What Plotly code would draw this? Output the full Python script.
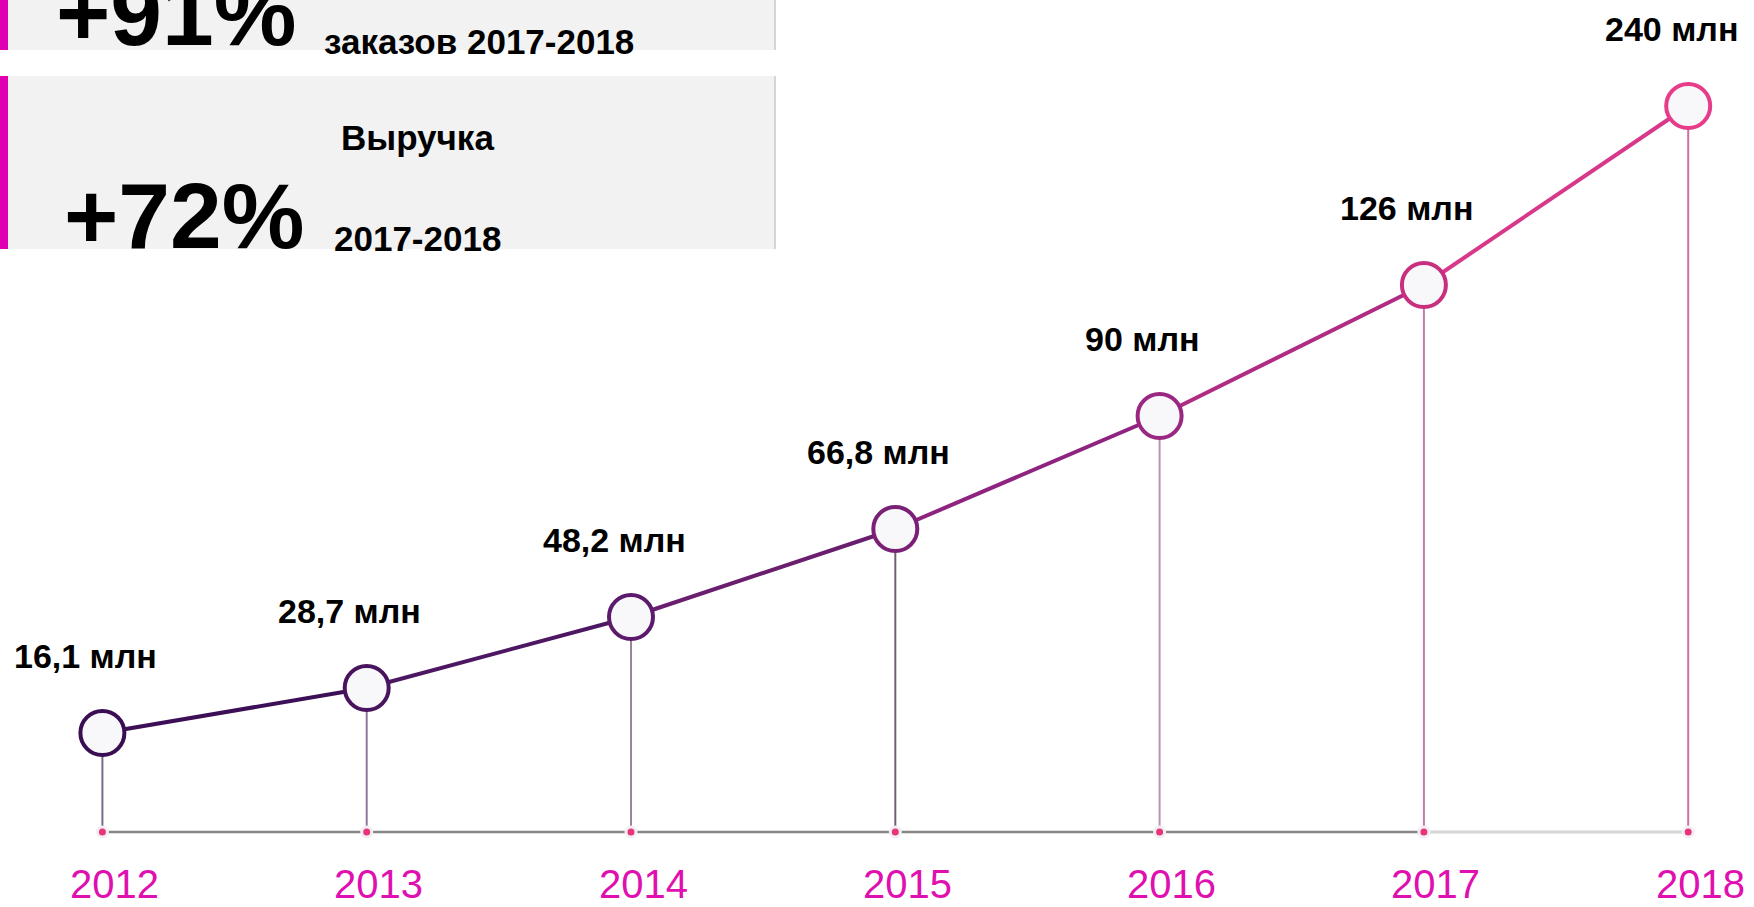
import plotly.graph_objects as go

# ---- data ----
years = [2012, 2013, 2014, 2015, 2016, 2017, 2018]
value_labels = ["16,1 млн", "28,7 млн", "48,2 млн", "66,8 млн", "90 млн", "126 млн", "240 млн"]
# visual height of the infographic curve at each year (chart units)
curve_levels = [99, 144, 215, 303, 416, 547, 726]
year_labels = ["2012", "2013", "2014", "2015", "2016", "2017", "2018"]

point_colors = ["#3a0e52", "#48145e", "#5c1a6c", "#7a2076", "#9a2882", "#c8307f", "#e63c8a"]
segment_colors = ["#3c0f56", "#4d1762", "#6a1e6e", "#8e2480", "#b02c84", "#d8388a"]
drop_colors = ["#7a6a8a", "#8a7a9a", "#9a8495", "#706070", "#c090b8", "#c07ea8", "#d070a0"]

W, H = 1754, 907
BASE_PX = 832  # baseline pixel row

fig = go.Figure()

# baseline (dark part then light part)
fig.add_trace(go.Scatter(x=years[:6], y=[0] * 6, mode="lines",
                         line=dict(color="#858585", width=2.5), hoverinfo="skip"))
fig.add_trace(go.Scatter(x=years[5:], y=[0] * 2, mode="lines",
                         line=dict(color="#d6d6d6", width=3), hoverinfo="skip"))

# drop lines
for yr, lv, c in zip(years, curve_levels, drop_colors):
    fig.add_trace(go.Scatter(x=[yr, yr], y=[0, lv], mode="lines",
                             line=dict(color=c, width=2), hoverinfo="skip"))

# curve segments with gradient colour
for i, c in enumerate(segment_colors):
    fig.add_trace(go.Scatter(x=years[i:i + 2], y=curve_levels[i:i + 2], mode="lines",
                             line=dict(color=c, width=4), hoverinfo="skip"))

# baseline dots
fig.add_trace(go.Scatter(x=years, y=[0] * len(years), mode="markers",
                         marker=dict(size=10, color="#e8347a",
                                     line=dict(color="#f2eef2", width=3)),
                         hoverinfo="skip"))

# circles
fig.add_trace(go.Scatter(x=years, y=curve_levels, mode="markers",
                         marker=dict(size=44, color="#f8f7fa",
                                     line=dict(color=point_colors, width=4)),
                         hoverinfo="skip"))

annotations = []
for yr, lv, t in zip(years, curve_levels, value_labels):
    annotations.append(dict(x=yr, y=lv, text=t, showarrow=False, xshift=-17, yshift=77,
                            font=dict(family="Liberation Sans, Arial", size=34,
                                      color="#000000", weight="bold")))
for yr, t in zip(years, year_labels):
    annotations.append(dict(x=yr, y=-55, text=t, showarrow=False, xshift=12, yshift=3,
                            font=dict(family="Liberation Sans, Arial", size=40,
                                      color="#e010b0")))


def px(x):
    return x / W


def py(y):
    return 1 - y / H


# top-left panels
shapes = [
    dict(type="rect", xref="paper", yref="paper", x0=px(0), x1=px(775), y0=py(50), y1=py(-5),
         fillcolor="#f2f2f2", line=dict(width=0), layer="below"),
    dict(type="rect", xref="paper", yref="paper", x0=px(0), x1=px(775), y0=py(249), y1=py(76),
         fillcolor="#f2f2f2", line=dict(width=0), layer="below"),
    dict(type="rect", xref="paper", yref="paper", x0=px(0), x1=px(8), y0=py(50), y1=py(-5),
         fillcolor="#e000b4", line=dict(width=0), layer="below"),
    dict(type="rect", xref="paper", yref="paper", x0=px(0), x1=px(8), y0=py(249), y1=py(76),
         fillcolor="#e000b4", line=dict(width=0), layer="below"),
    dict(type="line", xref="paper", yref="paper", x0=px(775), x1=px(775), y0=py(50), y1=py(-5),
         line=dict(color="#c8c8c8", width=1.5), layer="below"),
    dict(type="line", xref="paper", yref="paper", x0=px(775), x1=px(775), y0=py(249), y1=py(76),
         line=dict(color="#c8c8c8", width=1.5), layer="below"),
]

big_font = dict(family="Liberation Sans, Arial", size=93, color="#000000", weight="bold")
mid_font = dict(family="Liberation Sans, Arial", size=35, color="#000000", weight="bold")
annotations += [
    dict(xref="paper", yref="paper", x=px(176), y=py(13), text="+91%", showarrow=False,
         font=big_font, xanchor="center", yanchor="middle"),
    dict(xref="paper", yref="paper", x=px(479), y=py(41), text="заказов 2017-2018",
         showarrow=False, font=mid_font, xanchor="center", yanchor="middle"),
    dict(xref="paper", yref="paper", x=px(417), y=py(137), text="Выручка",
         showarrow=False, font=mid_font, xanchor="center", yanchor="middle"),
    dict(xref="paper", yref="paper", x=px(184), y=py(216), text="+72%", showarrow=False,
         font=big_font, xanchor="center", yanchor="middle"),
    dict(xref="paper", yref="paper", x=px(417), y=py(238), text="2017-2018",
         showarrow=False, font=mid_font, xanchor="center", yanchor="middle"),
]

# axis ranges mapping data to the canvas
x_step = 264.3
x_center = 895.3  # pixel of 2015
x0 = 2015 - x_center / x_step
x1 = 2015 + (W - x_center) / x_step

fig.update_layout(
    width=W, height=H,
    margin=dict(l=0, r=0, t=0, b=0),
    paper_bgcolor="#ffffff", plot_bgcolor="#ffffff",
    showlegend=False,
    xaxis=dict(range=[x0, x1], visible=False, fixedrange=True),
    yaxis=dict(range=[-(H - BASE_PX), BASE_PX], visible=False, fixedrange=True),
    shapes=shapes,
    annotations=annotations,
)

fig.write_html("out.html", config={"displayModeBar": False})
